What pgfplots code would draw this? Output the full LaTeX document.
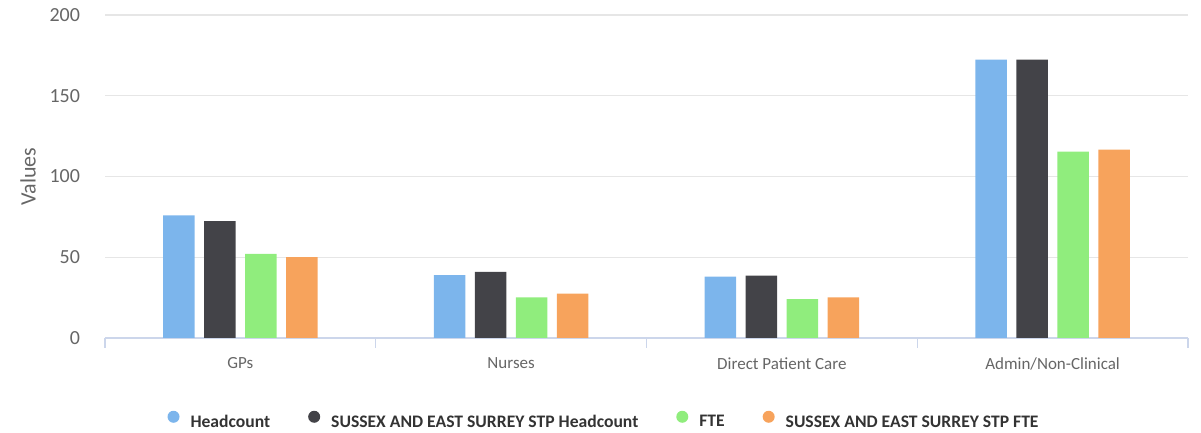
\documentclass[border=0pt]{standalone}
\usepackage{pgfplots}
\pgfplotsset{compat=1.18}
\usepackage{fontspec}
\setmainfont{Carlito}
\definecolor{cA}{HTML}{7CB5EC}
\definecolor{cB}{HTML}{434348}
\definecolor{cC}{HTML}{90ED7D}
\definecolor{cD}{HTML}{F7A35C}
\definecolor{gridc}{HTML}{E6E6E6}
\definecolor{axisc}{HTML}{CCD6EB}
\definecolor{lab}{HTML}{666666}
\definecolor{leg}{HTML}{333333}
\begin{document}
\begin{tikzpicture}
\begin{axis}[
  scale only axis, width=541.5pt, height=161.5pt,
  at={(0,0)}, anchor=south west,
  ybar, bar width=0.117,
  xmin=-0.5, xmax=3.5, ymin=0, ymax=200,
  enlargelimits=false,
  axis x line*=bottom, axis y line*=left,
  y axis line style={draw=none},
  x axis line style={draw=axisc, line width=0.6pt},
  ytick={0,50,100,150,200},
  ytick style={draw=none},
  ymajorgrids, grid style={draw=gridc, line width=0.6pt},
  /pgf/number format/assume math mode=true,
  yticklabel style={font=\fontsize{10}{12}\selectfont, text=lab, anchor=east, xshift=-9pt},
  xtick={0,1,2,3},
  xticklabels={GPs,Nurses,Direct Patient Care,Admin/Non-Clinical},
  xtick style={draw=none},
  xticklabel style={font=\fontsize{8.5}{10}\selectfont, text=lab, yshift=-2pt},
  extra x ticks={-0.5,0.5,1.5,2.5,3.5},
  extra x tick labels={},
  extra x tick style={xtick style={draw=axisc, line width=0.6pt}, major tick length=5pt, tick align=outside, xmajorgrids=false},
  ylabel={Values},
  ylabel style={font=\fontsize{11}{13}\selectfont, text=lab, at={(axis description cs:-0.071,0.5)}, anchor=center, rotate=0},
  legend columns=4,
  legend style={at={(axis description cs:0.4617,-0.262)}, anchor=center, draw=none, fill=none,
    font=\bfseries\fontsize{8.8}{10}\selectfont, text=leg,
    /tikz/every even column/.append style={column sep=17pt}},
  legend image code/.code={\path[#1, draw=none] (3pt,0.3em) circle (3pt); \path (0,0.3em) (9.5pt,0.3em);},
]
\addplot[fill=cA, draw=none, bar shift=-0.2271] coordinates {(0,76) (1,39) (2,38) (3,172.3)};
\addlegendentry{Headcount}
\addplot[fill=cB, draw=none, bar shift=-0.0757] coordinates {(0,72.4) (1,40.9) (2,38.6) (3,172.3)};
\addlegendentry{SUSSEX AND EAST SURREY STP Headcount}
\addplot[fill=cC, draw=none, bar shift=0.0757] coordinates {(0,52.1) (1,25.2) (2,24.1) (3,115.4)};
\addlegendentry{FTE}
\addplot[fill=cD, draw=none, bar shift=0.2271] coordinates {(0,50.0) (1,27.4) (2,25.2) (3,116.6)};
\addlegendentry{SUSSEX AND EAST SURREY STP FTE}
\end{axis}
\pgfresetboundingbox
\path (-52.5pt,-47.5pt) rectangle (548pt,169pt);
\end{tikzpicture}
\end{document}
